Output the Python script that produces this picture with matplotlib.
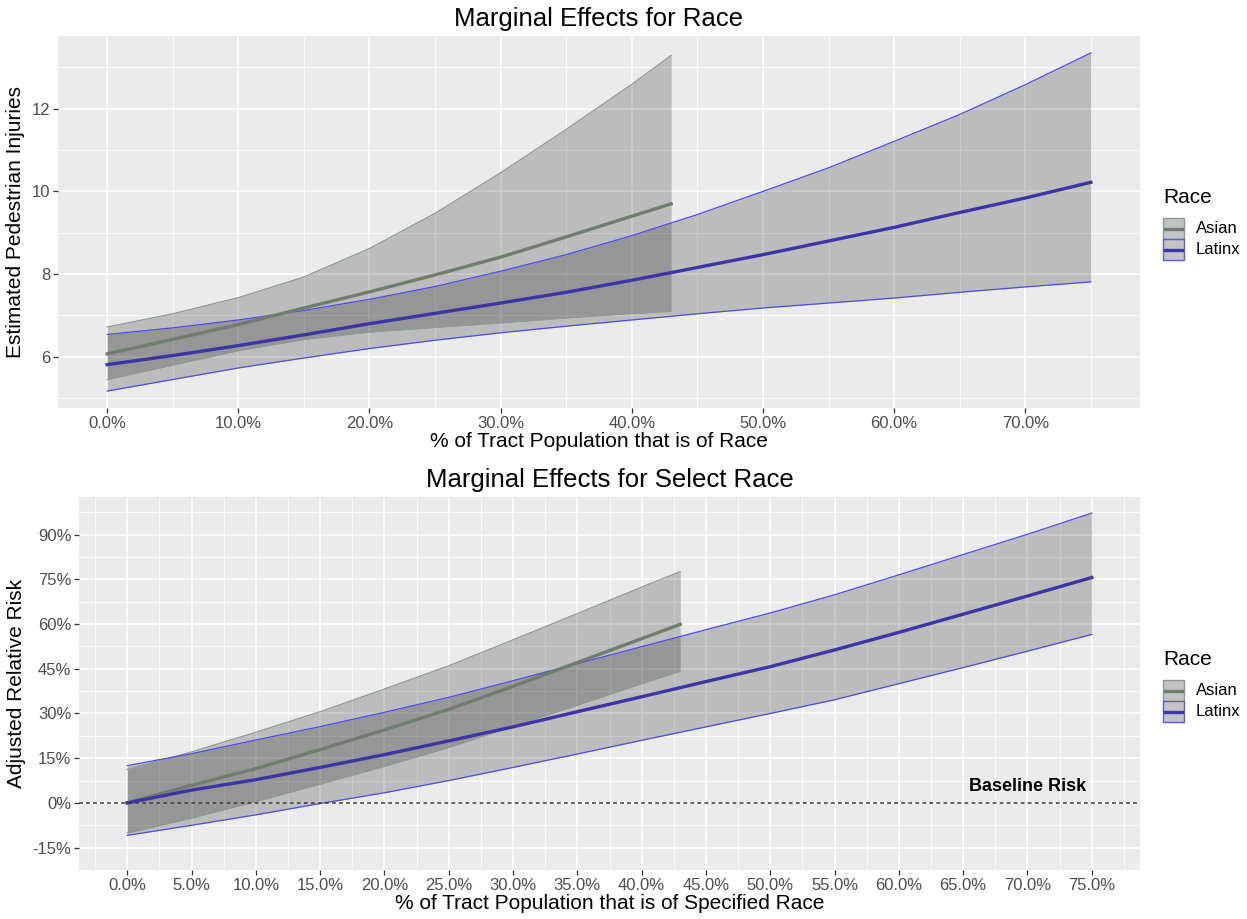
import matplotlib
matplotlib.use("Agg")
import matplotlib.pyplot as plt
from matplotlib.patches import Rectangle
from matplotlib.lines import Line2D

plt.rcParams['font.family'] = ['Liberation Sans', 'DejaVu Sans']

# ---- Predicted injuries (top panel) ----
latinx_x = [0, 5, 10, 15, 20, 25, 30, 35, 40, 45, 50, 55, 60, 65, 70, 75]
latinx_fit = [5.81, 6.03, 6.27, 6.53, 6.80, 7.05, 7.30, 7.56, 7.85, 8.16, 8.47, 8.80, 9.13, 9.49, 9.84, 10.22]
latinx_lo = [5.17, 5.45, 5.73, 5.97, 6.20, 6.40, 6.58, 6.74, 6.89, 7.04, 7.18, 7.30, 7.42, 7.56, 7.69, 7.81]
latinx_hi = [6.54, 6.70, 6.89, 7.12, 7.39, 7.70, 8.07, 8.47, 8.93, 9.44, 10.00, 10.57, 11.21, 11.86, 12.58, 13.35]

asian_x = [0, 5, 10, 15, 20, 25, 30, 35, 40, 43]
asian_fit = [6.07, 6.42, 6.78, 7.18, 7.57, 7.98, 8.41, 8.90, 9.40, 9.70]
asian_lo = [5.45, 5.80, 6.15, 6.42, 6.60, 6.71, 6.82, 6.94, 7.05, 7.10]
asian_hi = [6.72, 7.04, 7.43, 7.93, 8.62, 9.47, 10.45, 11.50, 12.59, 13.29]

# ---- Relative risk vs. 0% (bottom panel), in percent ----
latinx_rr = [0.0, 4.3, 7.8, 11.9, 16.2, 20.8, 25.5, 30.6, 35.6, 40.7, 45.7, 51.3, 57.2, 63.3, 69.4, 75.6]
latinx_rr_lo = [-10.9, -7.5, -4.0, -0.2, 3.4, 7.5, 11.9, 16.4, 21.0, 25.5, 30.0, 34.6, 40.0, 45.4, 50.9, 56.5]
latinx_rr_hi = [12.5, 16.5, 21.1, 25.6, 30.4, 35.4, 41.0, 46.7, 52.4, 58.1, 63.7, 69.8, 76.5, 83.3, 90.1, 97.2]

asian_rr = [0.0, 5.9, 11.5, 17.9, 24.5, 31.4, 39.1, 47.1, 55.1, 59.9]
asian_rr_lo = [-10.1, -5.1, 0.5, 6.3, 12.3, 18.6, 25.7, 32.8, 40.0, 44.2]
asian_rr_hi = [11.2, 17.1, 23.7, 30.6, 38.2, 46.0, 54.7, 63.5, 72.4, 77.6]

top_xticks = [0, 10, 20, 30, 40, 50, 60, 70]
top_yticks = [6, 8, 10, 12]
bot_xticks = list(range(0, 80, 5))
bot_yticks = [-15, 0, 15, 30, 45, 60, 75, 90]

groups = ['Asian', 'Latinx']
ASIAN_LINE = '#6E7D6E'
ASIAN_EDGE = '#8C9B8C'
LATINX_LINE = '#3B35A6'
LATINX_EDGE = '#4B4BF0'
line_colors = [ASIAN_LINE, LATINX_LINE]
edge_colors = [ASIAN_EDGE, '#5A5AE8']

W, H = 1247, 919
fig = plt.figure(figsize=(W / 100, H / 100), dpi=100)


def px_axes(left, top, right, bottom):
    return fig.add_axes([left / W, 1 - bottom / H, (right - left) / W, (bottom - top) / H])


ax1 = px_axes(58, 36, 1140, 408)
ax2 = px_axes(79, 497, 1140, 870)


def expanded(lo, hi, frac=0.05):
    pad = (hi - lo) * frac
    return lo - pad, hi + pad


def style(ax, xmaj, xmin, ymaj, ymin):
    ax.set_facecolor('#EBEBEB')
    for s in ax.spines.values():
        s.set_visible(False)
    ax.set_xticks(xmaj)
    ax.set_xticks(xmin, minor=True)
    ax.set_yticks(ymaj)
    ax.set_yticks(ymin, minor=True)
    ax.grid(True, which='major', color='white', lw=1.1)
    ax.grid(True, which='minor', color='white', lw=0.55)
    ax.set_axisbelow(True)
    ax.tick_params(which='major', length=3.5, width=0.9, color='#333333',
                   labelcolor='#4D4D4D', labelsize=12, pad=2)
    ax.tick_params(which='minor', length=0)


def ribbon(ax, x, lo, hi, edge):
    ax.fill_between(x, lo, hi, color='black', alpha=0.2, lw=0, zorder=2)
    ax.plot(x, lo, color=edge, lw=0.9, zorder=3)
    ax.plot(x, hi, color=edge, lw=0.9, zorder=3)


# ---------- top panel ----------
ribbon(ax1, asian_x, asian_lo, asian_hi, ASIAN_EDGE)
ribbon(ax1, latinx_x, latinx_lo, latinx_hi, LATINX_EDGE)
ax1.plot(asian_x, asian_fit, color=ASIAN_LINE, lw=2.4, zorder=4)
ax1.plot(latinx_x, latinx_fit, color=LATINX_LINE, lw=2.4, zorder=4)

ax1.set_xlim(*expanded(0, 75))
ax1.set_ylim(*expanded(min(latinx_lo + asian_lo), max(latinx_hi + asian_hi)))
style(ax1, top_xticks, [5, 15, 25, 35, 45, 55, 65, 75], top_yticks, [5, 7, 9, 11, 13])
ax1.set_xticklabels([f'{v:.1f}%' for v in top_xticks])
ax1.set_yticklabels([f'{v}' for v in top_yticks])
ax1.set_title('Marginal Effects for Race', fontsize=18.5, pad=7)
ax1.set_xlabel('% of Tract Population that is of Race', fontsize=15, labelpad=1)
ax1.set_ylabel('Estimated Pedestrian Injuries', fontsize=15, labelpad=5)

# ---------- bottom panel ----------
ribbon(ax2, asian_x, asian_rr_lo, asian_rr_hi, ASIAN_EDGE)
ribbon(ax2, latinx_x, latinx_rr_lo, latinx_rr_hi, LATINX_EDGE)
ax2.plot(asian_x, asian_rr, color=ASIAN_LINE, lw=2.4, zorder=4)
ax2.plot(latinx_x, latinx_rr, color=LATINX_LINE, lw=2.4, zorder=4)
ax2.axhline(0, color='#3A3A3A', lw=1.1, ls=(0, (2.5, 2.1)), zorder=5)
ax2.text(70, 5.4, 'Baseline Risk', ha='center', va='center', fontsize=13,
         fontweight='bold', color='black', zorder=6)

ax2.set_xlim(*expanded(0, 75))
ax2.set_ylim(*expanded(min(latinx_rr_lo + asian_rr_lo), max(latinx_rr_hi + asian_rr_hi)))
style(ax2, bot_xticks, [v + 2.5 for v in range(-5, 80, 5)],
      bot_yticks, [v + 7.5 for v in range(-30, 100, 15)])
ax2.set_xticklabels([f'{v:.1f}%' for v in bot_xticks])
ax2.set_yticklabels([f'{v}%' for v in bot_yticks])
ax2.set_title('Marginal Effects for Select Race', fontsize=18.5, pad=7)
ax2.set_xlabel('% of Tract Population that is of Specified Race', fontsize=15, labelpad=1)
ax2.set_ylabel('Adjusted Relative Risk', fontsize=15, labelpad=5)


# ---------- legends (drawn in figure pixel space) ----------
def fx(px):
    return px / W


def fy(py):
    return 1 - py / H


def draw_legend(title_baseline):
    fig.text(fx(1163), fy(title_baseline), 'Race', fontsize=15, ha='left', va='baseline')
    key_top = title_baseline + 15
    size = 21
    for i, name in enumerate(groups):
        top = key_top + i * size
        fig.add_artist(Rectangle((fx(1163), fy(top + size)), size / W, size / H,
                                 transform=fig.transFigure, facecolor='#C3C3C3',
                                 edgecolor=edge_colors[i], lw=1.0))
        mid = top + size / 2
        fig.add_artist(Line2D([fx(1165), fx(1182)], [fy(mid), fy(mid)],
                              transform=fig.transFigure, color=line_colors[i], lw=2.4))
        fig.text(fx(1196), fy(mid), name, fontsize=12, ha='left', va='center')


draw_legend(203)
draw_legend(665)

fig.savefig('out.png', dpi=100)
